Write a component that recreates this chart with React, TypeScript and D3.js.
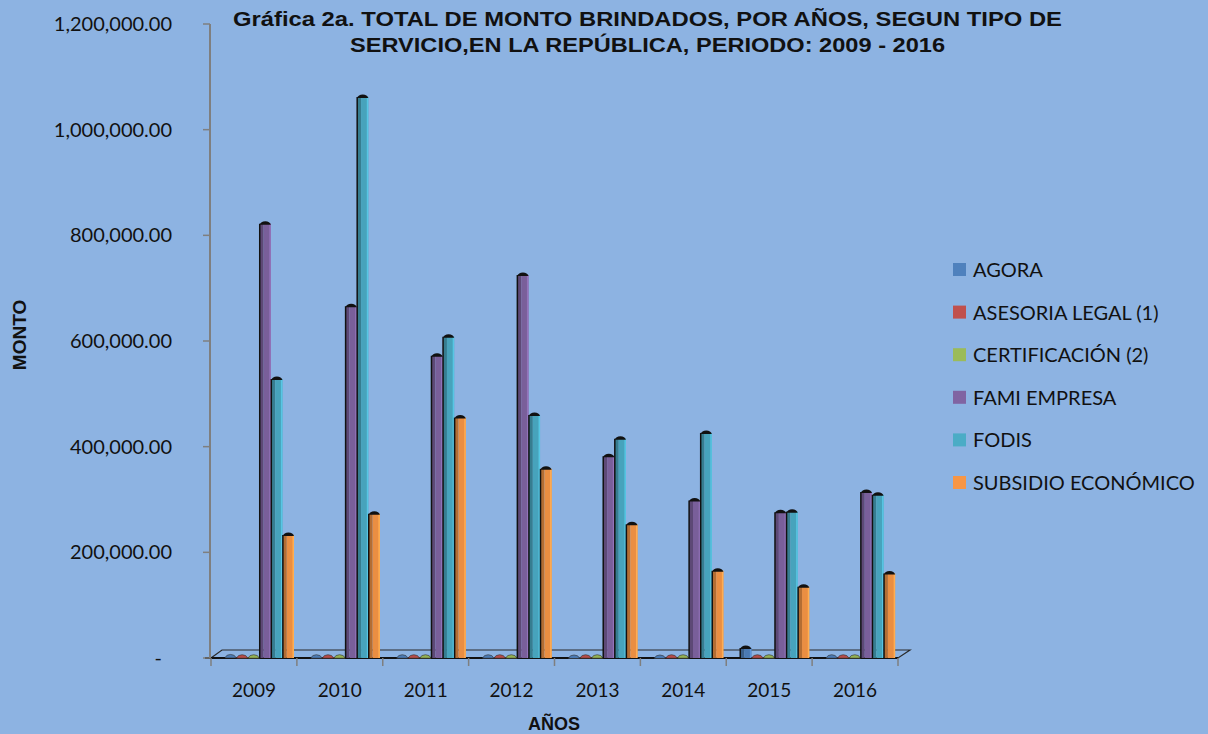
import * as d3 from "d3";

const years = ["2009", "2010", "2011", "2012", "2013", "2014", "2015", "2016"];
const series = [
  "AGORA",
  "ASESORIA LEGAL (1)",
  "CERTIFICACIÓN (2)",
  "FAMI EMPRESA",
  "FODIS",
  "SUBSIDIO ECONÓMICO",
];
const agora = [2000, 1500, 1500, 1500, 1000, 1000, 19000, 1500];
const asesoria = [1500, 1500, 1500, 1500, 1500, 1500, 1500, 1500];
const certificacion = [1500, 1500, 1500, 1500, 1500, 1500, 1500, 1500];
const famiEmpresa = [822000, 666000, 572000, 725000, 382000, 298000, 276000, 314000];
const fodis = [528000, 1062000, 608000, 460000, 415000, 426000, 277000, 309000];
const subsidio = [233000, 273000, 455000, 358000, 253000, 165000, 135000, 160000];
const yTicks = [0, 200000, 400000, 600000, 800000, 1000000, 1200000];

const colors = ["#4F81BD", "#C0504D", "#9BBB59", "#8064A2", "#4BACC6", "#F79646"];
const values = [agora, asesoria, certificacion, famiEmpresa, fodis, subsidio];

const W = 1208;
const H = 734;
const BG = "#8DB3E2";
const FONT = "Lato, 'Open Sans', sans-serif";
const BOLD = "'Liberation Sans', Arial, sans-serif";

export default function App() {
  const x = d3.scaleBand<string>().domain(years).range([211, 898]);
  const inner = d3
    .scaleBand<string>()
    .domain(series)
    .range([14, 83])
    .paddingInner(0.04);
  const y = d3.scaleLinear().domain([0, 1200000]).range([658, 24]);
  const fmt = d3.format(",.2f");

  const w = inner.bandwidth();
  const base = y(0);

  return (
    <svg
      width={W}
      height={H}
      style={{ position: "absolute", left: 0, top: 0 }}
      fontFamily={FONT}
    >
      <rect width={W} height={H} fill={BG} />

      {/* title */}
      <text
        x={233}
        y={26}
        textLength={829}
        lengthAdjust="spacingAndGlyphs"
        fontFamily={BOLD}
        fontWeight="bold"
        fontSize={21}
        fill="#111"
      >
        Gráfica 2a. TOTAL DE MONTO BRINDADOS, POR AÑOS, SEGUN TIPO DE
      </text>
      <text
        x={350}
        y={52}
        textLength={595}
        lengthAdjust="spacingAndGlyphs"
        fontFamily={BOLD}
        fontWeight="bold"
        fontSize={21}
        fill="#111"
      >
        SERVICIO,EN LA REPÚBLICA, PERIODO: 2009 - 2016
      </text>

      {/* floor */}
      <polygon
        points={`211,${base} 898,${base} 910,${base - 8} 222,${base - 8}`}
        fill="none"
        stroke="#2a2a2a"
        strokeWidth={1.2}
      />
      <line x1={205} x2={898} y1={base} y2={base} stroke="#111" strokeWidth={2} />

      {/* y axis */}
      <line x1={210} x2={210} y1={y(1200000)} y2={base} stroke="#7f7f7f" strokeWidth={2} />
      {yTicks.map((t) => (
        <g key={t}>
          <line x1={203} x2={210} y1={y(t)} y2={y(t)} stroke="#7f7f7f" strokeWidth={1.5} />
          <text
            x={t === 0 ? 162 : 172}
            y={y(t)}
            dy="0.35em"
            textAnchor="end"
            fontSize={20}
            fill="#111"
          >
            {t === 0 ? "-" : fmt(t)}
          </text>
        </g>
      ))}

      {/* x ticks */}
      {[...years.map((yr) => x(yr)!), 898].map((px, i) => (
        <line key={i} x1={px} x2={px} y1={base} y2={base + 8} stroke="#7f7f7f" strokeWidth={1.5} />
      ))}
      {years.map((yr) => (
        <text
          key={yr}
          x={x(yr)! + x.bandwidth() / 2}
          y={690}
          dy="0.35em"
          textAnchor="middle"
          fontSize={19}
          fill="#111"
        >
          {yr}
        </text>
      ))}

      {/* bars */}
      {years.map((yr, i) =>
        series.map((s, j) => {
          const v = values[j][i];
          const x0 = x(yr)! + inner(s)!;
          const top = y(v);
          const c = d3.color(colors[j])!;
          const dark = c.darker(0.9).formatHex();
          const face = c.darker(0.15).formatHex();
          const light = c.brighter(0.4).formatHex();
          const h = base - top;
          const tiny = h < 5;
          return (
            <g key={yr + s}>
              <rect x={x0} y={top} width={w * 0.35} height={h} fill={dark} />
              <rect x={x0 + w * 0.35} y={top} width={w * 0.65} height={h} fill={face} />
              <rect x={x0 + w - 1.5} y={top} width={1.5} height={h} fill={light} />
              {!tiny && (
                <line x1={x0} x2={x0} y1={top} y2={base} stroke="#111" strokeWidth={1.5} />
              )}
              <path
                d={`M${x0},${top + 1} Q${x0 + 1},${top - 2.5} ${x0 + w / 2},${top - 2.5} Q${x0 + w - 1},${top - 2.5} ${x0 + w},${top + 1} Z`}
                fill={tiny ? face : "#111"}
                stroke={tiny ? "#333" : "none"}
                strokeWidth={0.6}
              />
            </g>
          );
        })
      )}

      {/* axis titles */}
      <text
        transform="translate(26,335) rotate(-90)"
        textAnchor="middle"
        fontFamily={BOLD}
        fontWeight="bold"
        fontSize={19}
        fill="#111"
      >
        MONTO
      </text>
      <text
        x={554}
        y={730}
        textAnchor="middle"
        fontFamily={BOLD}
        fontWeight="bold"
        fontSize={18}
        fill="#111"
      >
        AÑOS
      </text>

      {/* legend */}
      {series.map((s, j) => {
        const ly = 270 + j * 42.6;
        return (
          <g key={s}>
            <rect x={953} y={ly - 7} width={13} height={13} fill={colors[j]} />
            <text x={973} y={ly} dy="0.35em" fontSize={20} fill="#111">
              {s}
            </text>
          </g>
        );
      })}
    </svg>
  );
}
